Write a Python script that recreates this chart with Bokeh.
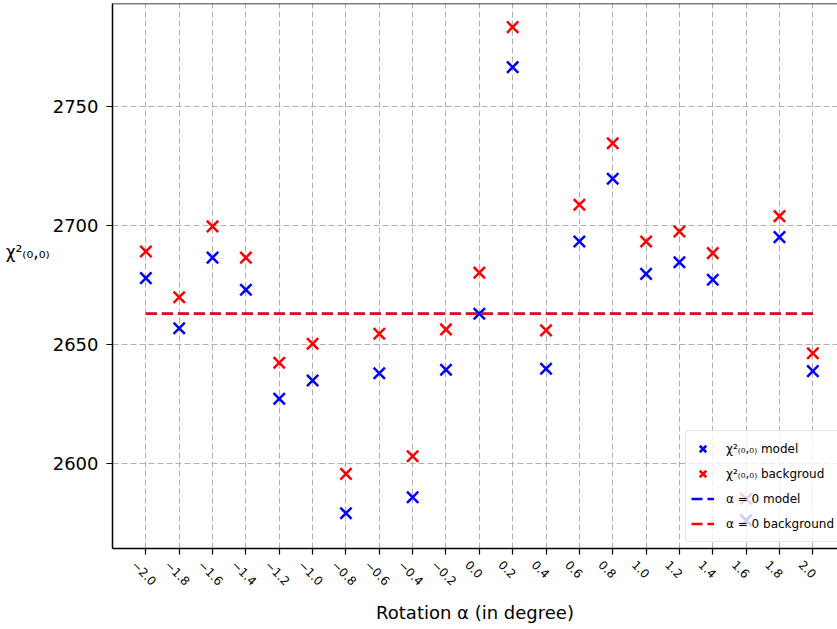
import math
from bokeh.plotting import figure
from bokeh.models import (ColumnDataSource, FixedTicker, Legend, LegendItem,
                          Span, Range1d, LinearAxis)
from bokeh.embed import file_html
from bokeh.resources import INLINE

# ---------------- data ----------------
rotation = [-2.0, -1.8, -1.6, -1.4, -1.2, -1.0, -0.8, -0.6, -0.4, -0.2, 0.0,
            0.2, 0.4, 0.6, 0.8, 1.0, 1.2, 1.4, 1.6, 1.8, 2.0]
chi2_model = [2677.9, 2656.9, 2686.5, 2673.0, 2627.3, 2635.0, 2579.3, 2638.0,
              2586.0, 2639.5, 2663.0, 2766.4, 2639.9, 2693.3, 2719.6, 2679.7,
              2684.6, 2677.2, 2576.3, 2695.1, 2638.9]
chi2_background = [2689.1, 2669.9, 2699.6, 2686.5, 2642.4, 2650.4, 2595.8,
                   2654.6, 2603.2, 2656.4, 2680.2, 2783.2, 2656.0, 2708.7,
                   2734.5, 2693.3, 2697.5, 2688.4, 2585.4, 2703.9, 2646.4]
alpha0_model = 2663.0
alpha0_background = 2663.0

x_ticks = rotation
x_tick_labels = ["\u22122.0", "\u22121.8", "\u22121.6", "\u22121.4", "\u22121.2",
                 "\u22121.0", "\u22120.8", "\u22120.6", "\u22120.4", "\u22120.2",
                 "0.0", "0.2", "0.4", "0.6", "0.8", "1.0", "1.2", "1.4", "1.6",
                 "1.8", "2.0"]
y_ticks = [2600, 2650, 2700, 2750]
y_tick_labels = ["2600", "2650", "2700", "2750"]

legend_labels = ["\u03c7\u00b2\u208d\u2080,\u2080\u208e model",
                 "\u03c7\u00b2\u208d\u2080,\u2080\u208e backgroud",
                 "\u03b1 = 0 model",
                 "\u03b1 = 0 background"]
x_title = "Rotation \u03b1 (in degree)"
y_title = "\u03c7\u00b2\u208d\u2080,\u2080\u208e"

# ---------------- figure ----------------
X0, X1 = -2.2, 2.148
Y0, Y1 = 2564.5, 2793.1
FONT = "DejaVu Sans"
LABEL_SHIFT = 12 / 166.75   # rotated tick labels centred under their ticks

p = figure(width=837, height=629, x_range=Range1d(X0, X1), y_range=Range1d(Y0, Y1),
           output_backend="svg", toolbar_location=None,
           min_border_left=112, min_border_right=0, min_border_top=3,
           min_border_bottom=81)
p.outline_line_color = None
p.background_fill_color = "white"
p.border_fill_color = "white"
p.extra_x_ranges = {"lbl": Range1d(X0 + LABEL_SHIFT, X1 + LABEL_SHIFT)}

# axes
for ax in (p.xaxis[0], p.yaxis[0]):
    ax.axis_line_color = "black"
    ax.axis_line_width = 1.5
    ax.major_tick_line_color = "black"
    ax.major_tick_line_width = 1.2
    ax.major_tick_in = 0
    ax.major_tick_out = 6
    ax.minor_tick_line_color = None
    ax.major_label_text_color = "black"
    ax.major_label_text_font = FONT

# bottom axis: line + tick marks only (drawn as minor ticks, so no labels)
p.xaxis.ticker = FixedTicker(ticks=[], minor_ticks=x_ticks)
p.xaxis.minor_tick_line_color = "black"
p.xaxis.minor_tick_line_width = 1.2
p.xaxis.minor_tick_in = 0
p.xaxis.minor_tick_out = 6

# second bottom axis: the rotated tick labels and the title
lab_ax = LinearAxis(x_range_name="lbl", ticker=FixedTicker(ticks=x_ticks))
lab_ax.major_label_overrides = {t: l for t, l in zip(x_ticks, x_tick_labels)}
lab_ax.axis_line_color = None
lab_ax.major_tick_line_color = None
lab_ax.minor_tick_line_color = None
lab_ax.major_tick_in = 0
lab_ax.major_tick_out = 0
lab_ax.major_label_orientation = -math.pi / 4
lab_ax.major_label_text_font = FONT
lab_ax.major_label_text_font_size = "12px"
lab_ax.major_label_text_color = "black"
lab_ax.major_label_standoff = 8
lab_ax.axis_label = x_title
lab_ax.axis_label_text_font = FONT
lab_ax.axis_label_text_font_size = "18px"
lab_ax.axis_label_text_font_style = "normal"
lab_ax.axis_label_text_color = "black"
lab_ax.axis_label_standoff = 10
p.add_layout(lab_ax, "below")

p.yaxis.ticker = FixedTicker(ticks=y_ticks)
p.yaxis.major_label_overrides = {t: l for t, l in zip(y_ticks, y_tick_labels)}
p.yaxis.major_label_text_font_size = "18px"
p.yaxis.major_label_standoff = 8
# two blank lines below the title lift it to where the reference shows it
p.yaxis.axis_label = y_title + "\n\u00a0\n\u00a0"
p.yaxis.axis_label_orientation = "horizontal"
p.yaxis.axis_label_text_font = FONT
p.yaxis.axis_label_text_font_size = "17px"
p.yaxis.axis_label_text_font_style = "normal"
p.yaxis.axis_label_text_color = "black"
p.yaxis.axis_label_standoff = 0

# grid
for g in (p.xgrid[0], p.ygrid[0]):
    g.grid_line_color = "#b0b0b0"
    g.grid_line_width = 1
    g.grid_line_dash = "6 3"
p.xgrid.ticker = FixedTicker(ticks=x_ticks)
p.ygrid.ticker = FixedTicker(ticks=y_ticks)

# top spine
p.add_layout(Span(location=Y1, dimension="width", line_color="black", line_width=1.5))

# data
src = ColumnDataSource(dict(x=rotation, m=chi2_model, b=chi2_background))
l_m = p.line(x=[rotation[0], rotation[-1]], y=[alpha0_model, alpha0_model],
             line_color="blue", line_width=2.5, line_dash="11 5")
l_b = p.line(x=[rotation[0], rotation[-1]], y=[alpha0_background, alpha0_background],
             line_color="red", line_width=2.5, line_dash="11 5")
s_m = p.scatter("x", "m", source=src, marker="x", size=16, line_color="blue",
                line_width=2.5)
s_b = p.scatter("x", "b", source=src, marker="x", size=16, line_color="red",
                line_width=2.5)

legend = Legend(items=[LegendItem(label=legend_labels[0], renderers=[s_m]),
                       LegendItem(label=legend_labels[1], renderers=[s_b]),
                       LegendItem(label=legend_labels[2], renderers=[l_m]),
                       LegendItem(label=legend_labels[3], renderers=[l_b])],
                location=(573, 6))
legend.background_fill_color = "white"
legend.background_fill_alpha = 0.8
legend.border_line_color = "#cccccc"
legend.border_line_width = 1
legend.border_radius = 3
legend.padding = 5
legend.spacing = 0
legend.margin = 0
legend.glyph_width = 23
legend.glyph_height = 25
legend.label_height = 20
legend.label_standoff = 12
legend.label_width = 160
legend.label_text_font = FONT
legend.label_text_font_size = "12px"
legend.label_text_color = "black"
p.add_layout(legend, "center")

open("out.html", "w").write(file_html(p, INLINE))
